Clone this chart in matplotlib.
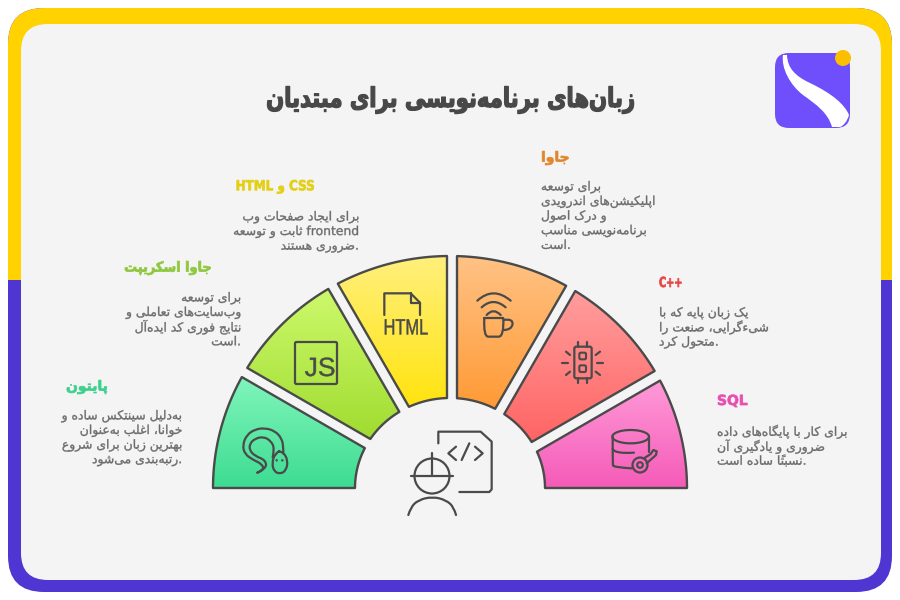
"""
    زبان‌های برنامه‌نویسی برای مبتدیان - infographic
"""
import re
import numpy as np
import matplotlib
matplotlib.use("Agg")
import matplotlib.pyplot as plt
from matplotlib.colors import LinearSegmentedColormap
from matplotlib.patches import Circle, FancyBboxPatch, PathPatch, Polygon, Rectangle
from matplotlib.path import Path
from matplotlib.patheffects import AbstractPathEffect
from matplotlib.transforms import Affine2D

# ---- content
title = "زبان‌های برنامه‌نویسی برای مبتدیان"
names = ["پایتون", "جاوا اسکریپت", "CSS و HTML", "جاوا", "C++", "SQL"]
bodies = [
    ["به‌دلیل سینتکس ساده و", "خوانا، اغلب به‌عنوان", "بهترین زبان برای شروع", ".رتبه‌بندی می‌شود"],
    ["برای توسعه", "وب‌سایت‌های تعاملی و", "نتایج فوری کد ایده‌آل", ".است"],
    ["برای ایجاد صفحات وب", "frontend ثابت و توسعه", ".ضروری هستند"],
    ["برای توسعه", "اپلیکیشن‌های اندرویدی", "و درک اصول", "برنامه‌نویسی مناسب", ".است"],
    ["یک زبان پایه که با", "شیءگرایی، صنعت را", ".متحول کرد"],
    ["برای کار با پایگاه‌های داده", "ضروری و یادگیری آن", ".نسبتاً ساده است"],
]
shares = [1, 1, 1, 1, 1, 1]
name_colors = ["#3ecf8e", "#8fc73e", "#e3cf14", "#e0872c", "#e84545", "#e84db0"]
grad_top = ["#80f5bb", "#cdf96c", "#fff07c", "#ffc285", "#ff9d9d", "#ff9ad8"]
grad_bottom = ["#3ddc92", "#a0dc30", "#ffe30e", "#ff9a35", "#ff6464", "#f55bb8"]

# ---- persian shaping, matplotlib has no bidi or joining
DUAL = {"ب": 0xFE8F, "ت": 0xFE95, "ث": 0xFE99, "ج": 0xFE9D, "ح": 0xFEA1, "خ": 0xFEA5,
        "س": 0xFEB1, "ش": 0xFEB5, "ص": 0xFEB9, "ض": 0xFEBD, "ط": 0xFEC1, "ظ": 0xFEC5,
        "ع": 0xFEC9, "غ": 0xFECD, "ف": 0xFED1, "ق": 0xFED5, "ل": 0xFEDD, "م": 0xFEE1,
        "ن": 0xFEE5, "ه": 0xFEE9, "ی": 0xFBFC, "ک": 0xFB8E, "گ": 0xFB92, "پ": 0xFB56,
        "چ": 0xFB7A}
RIGHT = {"ا": 0xFE8D, "آ": 0xFE81, "د": 0xFEA9, "ذ": 0xFEAB, "ر": 0xFEAD, "ز": 0xFEAF,
         "و": 0xFEED, "ژ": 0xFB8A}
MARK = "\u064b"


def shape(word):
    clusters = []
    letters = [c for c in word if c != MARK]
    for i, c in enumerate(letters):
        prev = letters[i - 1] if i else ""
        nxt = letters[i + 1] if i + 1 < len(letters) else ""
        from_prev = prev in DUAL
        to_next = c in DUAL and (nxt in DUAL or nxt in RIGHT)
        if c == "\u200c":
            continue
        if c in DUAL:
            form = (1 if from_prev else 0) if not to_next else (3 if from_prev else 2)
            clusters.append(chr(DUAL[c] + form))
        elif c in RIGHT:
            clusters.append(chr(RIGHT[c] + (1 if from_prev else 0)))
        else:
            clusters.append(c)
    # tanwin sits on the letter before it
    if MARK in word:
        pos = len(word[:word.index(MARK)].replace("\u200c", "")) - 1
        clusters[pos] += MARK
    return "".join(reversed(clusters))


def fa(line):
    runs = re.findall(r"[A-Za-z0-9+]+|[^A-Za-z0-9+]+", line)
    out = []
    for run in runs:
        if re.match(r"[A-Za-z0-9+]", run):
            out.append(run)
        else:
            out.append(shape(run))
    return "".join(reversed(out))


class Squeeze(AbstractPathEffect):
    # narrows a text around x0 and thickens it, the source font is heavier and tighter
    def __init__(self, x0, sx=1.0, lw=0.0):
        super().__init__()
        self.x0, self.sx, self.lw = x0, sx, lw

    def draw_path(self, renderer, gc, tpath, affine, rgbFace=None):
        gc0 = renderer.new_gc()
        gc0.copy_properties(gc)
        gc0.set_linewidth(self.lw)
        squeezed = affine + Affine2D().translate(-self.x0, 0).scale(self.sx, 1).translate(self.x0, 0)
        renderer.draw_path(gc0, tpath, squeezed, rgbFace)
        gc0.restore()


# ---- canvas, one unit is one pixel
fig = plt.figure(figsize=(9, 6), dpi=100, facecolor="white")
ax = fig.add_axes([0, 0, 1, 1])
ax.set_xlim(0, 900)
ax.set_ylim(600, 0)
ax.axis("off")

frame = FancyBboxPatch((8, 8), 884, 584, boxstyle="round,pad=0,rounding_size=36",
                       fc="#4f35d2", ec="none", zorder=1)
ax.add_patch(frame)
upper = Rectangle((0, 0), 900, 280, fc="#ffd200", ec="none", zorder=1.1)
ax.add_patch(upper)
upper.set_clip_path(frame)
ax.add_patch(FancyBboxPatch((21, 24), 860, 556, boxstyle="round,pad=0,rounding_size=27",
                            fc="#f4f4f4", ec="none", zorder=2))

# ---- logo
ax.add_patch(FancyBboxPatch((775, 53), 75, 75, boxstyle="round,pad=0,rounding_size=14",
                            fc="#6f4ffb", ec="none", zorder=3))
swoosh = Path([(787, 55), (787.5, 68), (795, 76), (810, 83), (833, 94), (845, 105), (849, 115),
               (847, 122), (843, 126), (840, 127), (832, 127), (828, 113), (817, 105), (803, 95),
               (790, 85), (781, 68), (783, 55), (787, 55)],
              [Path.MOVETO] + [Path.CURVE4] * 9 + [Path.LINETO] + [Path.CURVE4] * 6 + [Path.LINETO])
ax.add_patch(PathPatch(swoosh, fc="white", ec="none", zorder=4))
ax.add_patch(Circle((843, 58), 8, fc="#fbbf00", ec="none", zorder=5))

# ---- fan of sectors
cx, cy = 450, 488
outer_r = (237, 232)
inner_r = (95, 90)
# how far each cut edge sits inside its sector, the gaps are not even in the source
inset_hi = [0, 2.6, 5, 7, 10, 12]
inset_lo = [8, 5.8, 3, 0.5, -1, 0]
INK = "#4a4a4a"


def edge_point(a, d, side, radii):
    u = np.array([np.cos(a), np.sin(a)])
    n = np.array([np.sin(a), -np.cos(a)]) * side
    rx, ry = radii
    qa = (u[0] / rx) ** 2 + (u[1] / ry) ** 2
    qb = 2 * d * (u[0] * n[0] / rx ** 2 + u[1] * n[1] / ry ** 2)
    qc = (d * n[0] / rx) ** 2 + (d * n[1] / ry) ** 2 - 1
    t = (-qb + np.sqrt(qb ** 2 - 4 * qa * qc)) / (2 * qa)
    p = t * u + d * n
    return np.arctan2(p[1] / ry, p[0] / rx)


edges = 180 - 180 * np.cumsum([0] + shares) / sum(shares)
for k in range(len(shares)):
    hi, lo = np.radians(edges[k]), np.radians(edges[k + 1])
    t_out = np.linspace(edge_point(hi, inset_hi[k], 1, outer_r), edge_point(lo, inset_lo[k], -1, outer_r), 60)
    t_in = np.linspace(edge_point(lo, inset_lo[k], -1, inner_r), edge_point(hi, inset_hi[k], 1, inner_r), 30)
    xs = np.r_[cx + outer_r[0] * np.cos(t_out), cx + inner_r[0] * np.cos(t_in)]
    ys = np.r_[cy - outer_r[1] * np.sin(t_out), cy - inner_r[1] * np.sin(t_in)]
    poly = Polygon(np.c_[xs, ys], closed=True, fc="none", ec=INK, lw=1.7, joinstyle="round", zorder=7)
    ax.add_patch(poly)
    cmap = LinearSegmentedColormap.from_list("s%d" % k, [grad_top[k], grad_bottom[k]])
    img = ax.imshow(np.linspace(0, 1, 128)[:, None], cmap=cmap, aspect="auto", origin="upper",
                    extent=(xs.min(), xs.max(), ys.max(), ys.min()), zorder=6)
    img.set_clip_path(Polygon(np.c_[xs, ys], closed=True, transform=ax.transData))
ax.set_xlim(0, 900)
ax.set_ylim(600, 0)


def line(pts, ox, oy, lw=1.6, color=INK):
    p = np.array(pts, float) / 3 + (ox, oy)
    ax.plot(p[:, 0], p[:, 1], color=color, lw=lw, solid_capstyle="round", solid_joinstyle="round", zorder=8)


def smooth(pts, ox, oy, lw=1.6):
    p = np.array(pts, float) / 3 + (ox, oy)
    verts = [p[0]]
    codes = [Path.MOVETO]
    for i in range(1, len(p) - 1):
        end = (p[i] + p[i + 1]) / 2 if i < len(p) - 2 else p[i + 1]
        verts += [p[i], end]
        codes += [Path.CURVE3, Path.CURVE3]
    ax.add_patch(PathPatch(Path(verts, codes), fc="none", ec=INK, lw=lw, capstyle="round", zorder=8))


# snake
smooth([(172, 668), (192, 660), (186, 642), (160, 630), (134, 612), (128, 585), (140, 555), (165, 538), (195, 534),
        (225, 543), (245, 565), (250, 590), (250, 610)], 200, 250)
smooth([(172, 668), (200, 655), (196, 630), (165, 618), (148, 600), (150, 580), (165, 566), (190, 560), (212, 572),
        (224, 595), (218, 622)], 200, 250)
smooth([(237, 604), (250, 606), (264, 632), (258, 662), (240, 672), (222, 664), (216, 640), (224, 612), (237, 604)], 200, 250)
ax.add_patch(Circle((200 + 230 / 3, 250 + 631 / 3), 1.2, fc=INK, ec="none", zorder=8))
ax.add_patch(Circle((200 + 247 / 3, 250 + 631 / 3), 1.2, fc=INK, ec="none", zorder=8))

# js box
ax.add_patch(FancyBboxPatch((295, 342), 42, 42, boxstyle="round,pad=0,rounding_size=1.5",
                            fc="none", ec=INK, lw=1.6, zorder=8))
ax.text(320, 369, "JS", fontsize=19, family="Liberation Sans", color=INK, ha="center", va="center", zorder=8,
        path_effects=[Squeeze(320, lw=0.3)])

# html page
line([(553, 195), (553, 130), (632, 130), (660, 158), (660, 195)], 200, 250)
line([(632, 130), (632, 158), (660, 158)], 200, 250)
ax.text(406, 329, "HTML", fontsize=16, family="Liberation Sans", color=INK, ha="center", va="center", zorder=8,
        path_effects=[Squeeze(406, sx=0.74, lw=0.3)])

# coffee and wifi
smooth([(112, 152), (160, 108), (212, 152)], 440, 250)
smooth([(125, 172), (160, 140), (197, 172)], 440, 250)
smooth([(140, 195), (160, 172), (182, 195)], 440, 250)
line([(133, 205), (190, 205)], 440, 250)
smooth([(133, 205), (130, 260), (160, 260), (192, 260), (190, 205)], 440, 250)
smooth([(190, 210), (220, 205), (215, 240), (190, 240)], 440, 250)

# chip
ax.add_patch(FancyBboxPatch((440 + 403 / 3, 250 + 290 / 3), 52 / 3, 95 / 3, boxstyle="round,pad=0,rounding_size=2",
                            fc="none", ec=INK, lw=1.6, zorder=8))
for sq_top in (308, 346):
    ax.add_patch(FancyBboxPatch((440 + 418 / 3, 250 + sq_top / 3), 20 / 3, 20 / 3, boxstyle="round,pad=0,rounding_size=1.5",
                                fc="none", ec=INK, lw=1.5, zorder=8))
for seg in [[(413, 275), (413, 290)], [(442, 275), (442, 290)], [(413, 385), (413, 400)], [(442, 385), (442, 400)],
            [(367, 340), (385, 340)], [(472, 340), (490, 340)], [(378, 305), (390, 315)], [(480, 305), (467, 315)],
            [(378, 375), (390, 365)], [(480, 375), (467, 365)]]:
    line(seg, 440, 250)

# database and key
t = np.linspace(0, 2 * np.pi, 60)
line(np.c_[572 + 55 * np.cos(t), 560 + 20 * np.sin(t)], 440, 250)
smooth([(518, 560), (518, 640), (520, 652), (575, 655)], 440, 250)
line([(627, 560), (627, 605)], 440, 250)
smooth([(518, 597), (525, 612), (582, 608)], 440, 250)
ax.add_patch(Circle((440 + 600 / 3, 250 + 645 / 3), 7.5, fc="none", ec=INK, lw=1.6, zorder=8))
ax.add_patch(Circle((440 + 600 / 3, 250 + 645 / 3), 2.8, fc="none", ec=INK, lw=1.5, zorder=8))
line([(612, 625), (632, 612), (640, 600), (650, 604), (648, 615), (620, 640)], 440, 250)

# worker with code page
ax.add_patch(Circle((432, 476), 17.5, fc="none", ec=INK, lw=1.6, zorder=8))
line([(632, 677), (760, 677)], 200, 250)
line([(697, 610), (697, 677)], 200, 250)
smooth([(625, 795), (632, 772), (655, 750), (697, 740), (738, 750), (762, 772), (768, 795)], 200, 250)
line([(-5, 580), (-5, 545), (122, 545), (155, 575), (155, 718), (148, 726), (58, 726)], 440, 250)
line([(48, 590), (25, 610), (48, 630)], 440, 250)
line([(88, 580), (65, 630)], 440, 250)
line([(105, 590), (128, 610), (105, 630)], 440, 250)

# ---- text
ax.text(451, 100, fa(title), fontsize=19.5, family="DejaVu Sans", weight="bold", color="#484848",
        ha="center", va="center", zorder=9, path_effects=[Squeeze(451, sx=0.78, lw=0.9)])

name_x = [108, 212, 315, 541, 659, 717]
name_y = [387, 268, 187, 158, 283, 401]
name_sx = [1.0, 0.93, 0.86, 1.0, 0.7, 1.0]
body_x = [182, 241, 359, 541, 659, 717]
body_y = [416, 298, 217, 187, 313, 432]
for k in range(len(names)):
    left_side = k < 3
    ax.text(name_x[k], name_y[k], fa(names[k]), fontsize=10, weight="bold", color=name_colors[k],
            ha="right" if left_side else "left", va="center", zorder=9,
            path_effects=[Squeeze(name_x[k], sx=name_sx[k], lw=0.5)])
    for j, row in enumerate(bodies[k]):
        ax.text(body_x[k], body_y[k] + j * 14.6, fa(row), fontsize=8.9, color="#6b6b6b",
                ha="right" if left_side else "left", va="center", zorder=9,
                path_effects=[Squeeze(body_x[k], lw=0.25)])

fig.savefig("out.png", dpi=100)
